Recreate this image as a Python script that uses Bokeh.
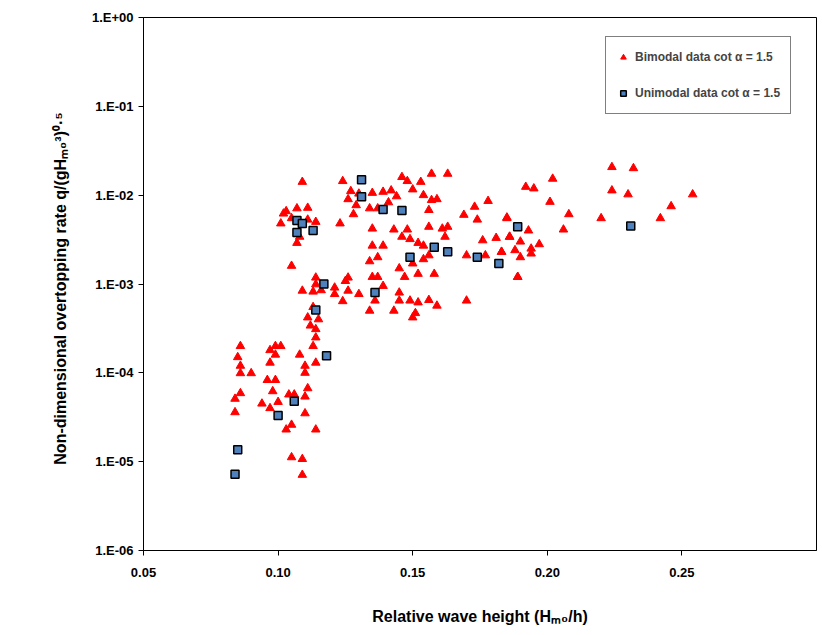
from bokeh.plotting import figure
from bokeh.models import Range1d, LogTicker, SingleIntervalTicker, CustomJSTickFormatter, NumeralTickFormatter, Legend, LegendItem
from bokeh.embed import file_html
from bokeh.resources import INLINE

# Bimodal data cot alpha = 1.5 (red triangles)
bi_x = [0.109, 0.124, 0.146, 0.148, 0.153, 0.157, 0.163, 0.127, 0.130, 0.135, 0.139, 0.142, 0.144, 0.126,
        0.134, 0.129, 0.137, 0.141, 0.150, 0.154, 0.157, 0.159, 0.156, 0.128,
        0.102, 0.103, 0.107, 0.111, 0.101, 0.105, 0.111, 0.114, 0.108, 0.107, 0.123, 0.105,
        0.135, 0.143, 0.148, 0.156, 0.161, 0.163, 0.146, 0.149, 0.152, 0.154, 0.162, 0.135, 0.139,
        0.134, 0.137, 0.156, 0.154, 0.150, 0.145, 0.147, 0.152, 0.158, 0.135, 0.137, 0.139, 0.145,
        0.145, 0.149, 0.152, 0.156, 0.159, 0.170, 0.134, 0.143, 0.150, 0.151, 0.136,
        0.114, 0.114, 0.109, 0.113, 0.116, 0.121, 0.121, 0.125, 0.126, 0.126, 0.130, 0.124,
        0.169, 0.173, 0.178, 0.174, 0.185, 0.176, 0.181, 0.186, 0.170, 0.177, 0.183, 0.188, 0.189,
        0.113, 0.111, 0.115, 0.112, 0.114, 0.114, 0.113, 0.108, 0.110, 0.114, 0.110,
        0.086, 0.085, 0.086, 0.086, 0.090, 0.097, 0.099, 0.101, 0.099, 0.097, 0.096, 0.099, 0.098,
        0.086, 0.084, 0.084, 0.094, 0.097, 0.100, 0.104, 0.106, 0.110, 0.111, 0.110, 0.105, 0.103,
        0.114, 0.105, 0.109, 0.109,
        0.192, 0.195, 0.202, 0.201, 0.208, 0.206, 0.220, 0.224, 0.232, 0.224, 0.230, 0.246, 0.242,
        0.254, 0.193, 0.190, 0.197, 0.194, 0.194, 0.190, 0.189, 0.185, 0.186, 0.183]
bi_q = [0.0141, 0.0144, 0.0160, 0.0144, 0.0141, 0.0174, 0.0174, 0.0111, 0.0104, 0.0106, 0.0109, 0.0113, 0.0097, 0.0090,
        0.0071, 0.0077, 0.0071, 0.0083, 0.0116, 0.0100, 0.0088, 0.0090, 0.0068, 0.0061,
        0.0062, 0.0066, 0.0071, 0.0072, 0.0048, 0.0055, 0.0053, 0.0050, 0.0034, 0.0029, 0.0048, 0.0016,
        0.0042, 0.0041, 0.0041, 0.0044, 0.0042, 0.0044, 0.0034, 0.0032, 0.0029, 0.0027, 0.0034, 0.0027, 0.0027,
        0.0018, 0.0020, 0.0021, 0.0019, 0.0017, 0.0015, 0.0012, 0.0013, 0.0013, 0.0012, 0.0012, 0.00095, 0.00080,
        0.00065, 0.00065, 0.00062, 0.00066, 0.00057, 0.00065, 0.00050, 0.00050, 0.00042, 0.00047, 0.00065,
        0.00118, 0.00099, 0.00084, 0.00082, 0.00085, 0.00091, 0.00077, 0.00108, 0.00118, 0.00084, 0.00077, 0.00064,
        0.0060, 0.0074, 0.0086, 0.0053, 0.0055, 0.0031, 0.0033, 0.0034, 0.0021, 0.0021, 0.0023, 0.0024, 0.0012,
        0.00055, 0.00042, 0.00040, 0.00034, 0.00031, 0.00025, 0.00020, 0.00016, 0.00012, 0.00013, 0.00010,
        0.00020, 0.00015, 0.00012, 0.000099, 0.000099, 0.00018, 0.00020, 0.00020, 0.00016, 0.00013, 0.000083, 0.000083, 0.000062,
        0.000059, 0.000051, 0.000036, 0.000045, 0.000040, 0.000047, 0.000057, 0.000057, 0.000054, 0.000067, 0.000035, 0.000026, 0.000023,
        0.000023, 0.0000112, 0.0000107, 0.0000071,
        0.0124, 0.0119, 0.0153, 0.0084, 0.0061, 0.0041, 0.0055, 0.0207, 0.0201, 0.0113, 0.0102, 0.0075, 0.0055,
        0.0102, 0.0040, 0.0030, 0.0028, 0.0025, 0.0022, 0.0020, 0.0012, 0.0056, 0.0034, 0.0023]

# Unimodal data cot alpha = 1.5 (blue squares)
uni_x = [0.131, 0.131, 0.139, 0.146, 0.107, 0.109, 0.107, 0.113, 0.158, 0.163, 0.149, 0.174,
         0.182, 0.189, 0.231, 0.117, 0.136, 0.114, 0.118, 0.106, 0.100, 0.085, 0.084]
uni_q = [0.0149, 0.0096, 0.0069, 0.0067, 0.0052, 0.0048, 0.0038, 0.0040, 0.0026, 0.0023, 0.0020, 0.0020,
         0.0017, 0.0044, 0.0045, 0.0010, 0.0008, 0.00051, 0.000156, 0.000048, 0.000033, 0.0000136, 0.0000072]

p = figure(width=820, height=627, y_axis_type="log", output_backend="svg", toolbar_location=None,
           x_range=Range1d(0.05, 0.30), y_range=Range1d(1e-6, 1),
           min_border_left=143, min_border_right=4, min_border_top=17, min_border_bottom=64)
p.xgrid.visible = False
p.ygrid.visible = False
p.outline_line_color = "black"
p.outline_line_width = 1

tri = p.scatter(bi_x, bi_q, marker="triangle", size=8.5, fill_color="red", line_color="red")
sq = p.scatter(uni_x, uni_q, marker="square", size=8, fill_color="#4F81BD", line_color="black", line_width=1.5)

p.xaxis.ticker = SingleIntervalTicker(interval=0.05, num_minor_ticks=0)
p.xaxis.formatter = NumeralTickFormatter(format="0.00")
p.yaxis.ticker = LogTicker(desired_num_ticks=7, num_minor_ticks=0)
p.yaxis.formatter = CustomJSTickFormatter(code="""
const e = Math.round(Math.log10(tick));
const s = e < 0 ? '-' : '+';
const a = Math.abs(e);
return '1.E' + s + (a < 10 ? '0' : '') + a;
""")
for ax in (p.xaxis[0], p.yaxis[0]):
    ax.axis_line_color = "black"
    ax.major_tick_line_color = "black"
    ax.major_tick_in = 0
    ax.major_tick_out = 5
    ax.minor_tick_line_color = None
    ax.major_label_text_font = "Liberation Sans"
    ax.major_label_text_font_style = "bold"
    ax.major_label_text_font_size = "13px"
    ax.major_label_text_color = "black"
    ax.axis_label_text_font = "Liberation Sans"
    ax.axis_label_text_font_style = "bold"
    ax.axis_label_text_font_size = "16px"
    ax.axis_label_text_color = "black"

p.xaxis.axis_label = "Relative wave height (H\u2098\u2080/h)"
p.yaxis.axis_label = "Non-dimensional  overtopping rate  q/(gH\u2098\u2080\u00b3)\u2070\u00b7\u2075"
p.xaxis.major_label_standoff = 12
p.xaxis.axis_label_standoff = 28
p.yaxis.axis_label_standoff = 20

legend = Legend(items=[LegendItem(label="Bimodal data cot \u03b1 = 1.5", renderers=[tri]),
                       LegendItem(label="Unimodal data cot \u03b1 = 1.5", renderers=[sq])],
                location=(462, 436), spacing=16, padding=10, glyph_width=14,
                label_text_font="Liberation Sans", label_text_font_style="bold",
                label_text_font_size="12px", border_line_color="black", border_line_width=1)
p.add_layout(legend, "center")

open("out.html", "w").write(file_html(p, INLINE))
